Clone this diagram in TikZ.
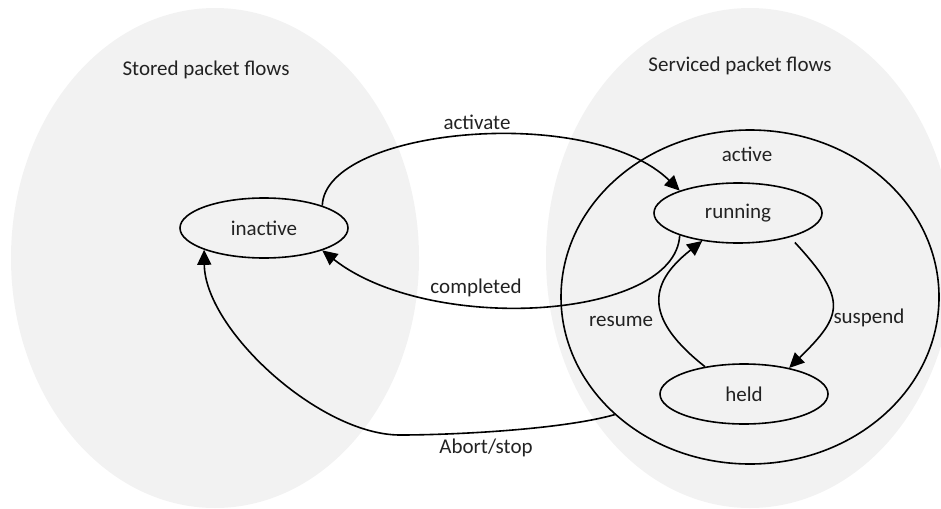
\documentclass[tikz,border=0pt]{standalone}
\usepackage{fontspec}
\setmainfont{Carlito}
\usetikzlibrary{shapes.geometric,arrows.meta}
\definecolor{regiongray}{HTML}{F2F2F2}
\definecolor{inkgray}{HTML}{222222}
\begin{document}
\begin{tikzpicture}[x=1pt,y=-1pt,
  font=\fontsize{21}{25}\selectfont,
  region/.style={ellipse,fill=regiongray,draw=none,inner sep=0pt},
  state/.style={ellipse,draw=black,line width=1.6pt,inner sep=0pt,
    minimum width=168pt,minimum height=60pt,text=inkgray},
  trans/.style={line width=1.6pt,-{Triangle[length=15pt,width=14pt]}},
  lbl/.style={inner sep=0pt,text=inkgray}]
\useasboundingbox (0,0) rectangle (941,508);

% the two shaded regions
\node[region,minimum width=408pt,minimum height=500pt] (stored) at (215,258) {};
\node[region,minimum width=408pt,minimum height=500pt] (serviced) at (750,258) {};
\node[lbl] (storedlbl) at (206,70) {Stored packet flows};
\node[lbl] (servicedlbl) at (740,66) {Serviced packet flows};

% the active super-state
\node[ellipse,draw=black,line width=1.6pt,inner sep=0pt,
  minimum width=378pt,minimum height=334pt] (active) at (750,297) {};
\node[lbl] (activelbl) at (747,154) {active};

% states
\node[state] (inactive) at (264,228) {inactive};
\node[state] (running) at (738,213) {running};
\node[state] (held) at (744,394) {held};

% transitions
\coordinate (bend) at (400,435);
\draw[trans] (inactive.21) .. controls (325,128) and (590,103) .. (running.159);
\draw[trans] (running.201) .. controls (675,320) and (430,335) .. (inactive.-21);
\draw[trans] (active.221.6) .. controls (560,430) and (450,435) .. (bend)
  .. controls (320,435) and (205,330) .. (inactive.200);
\draw[trans] (held.145.7) .. controls (646,320) and (646,285) .. (running.218);
\draw[trans,shorten <=7pt] (running.335) .. controls (848,300) and (843,315) .. (held.30);

% transition labels
\node[lbl] (activatelbl) at (477,122) {activate};
\node[lbl] (completedlbl) at (476,288) {completed};
\node[lbl] (abortlbl) at (486,448) {Abort/stop};
\node[lbl] (resumelbl) at (621,321) {resume};
\node[lbl] (suspendlbl) at (869,318) {suspend};
\end{tikzpicture}
\end{document}
